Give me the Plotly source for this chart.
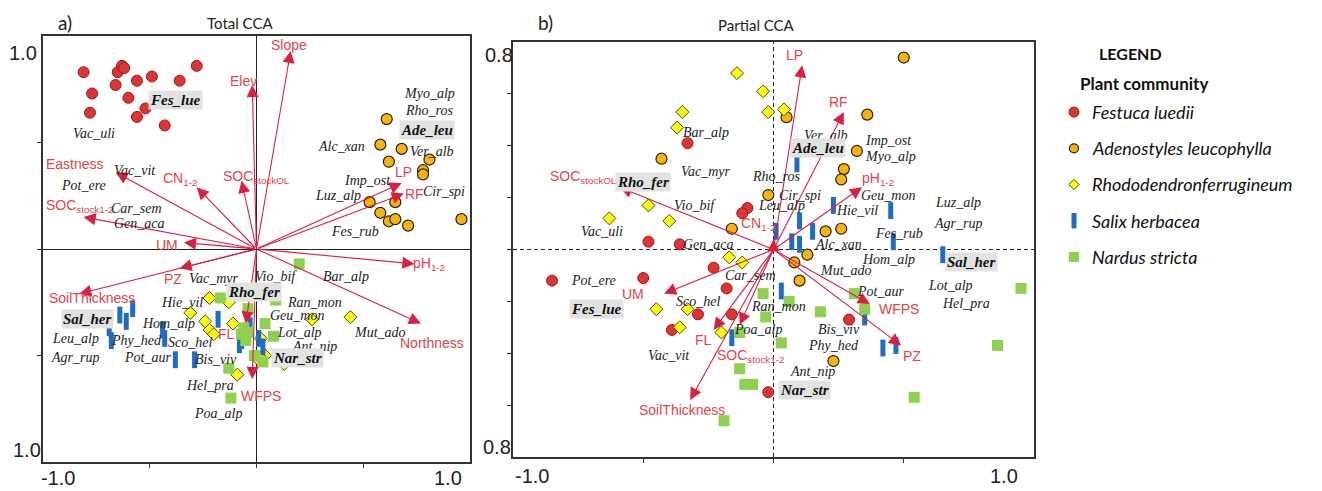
import plotly.graph_objects as go

W, H = 1322, 491

# ---------------- Panel a) Total CCA : sample scores ----------------
a_fes_x = [-0.81, -0.77, -0.78, -0.66, -0.65, -0.63, -0.62, -0.60, -0.56, -0.56, -0.52, -0.49, -0.43, -0.36, -0.28]
a_fes_y = [0.83, 0.73, 0.64, 0.77, 0.83, 0.86, 0.85, 0.71, 0.79, 0.62, 0.66, 0.81, 0.58, 0.79, 0.86]
a_ade_x = [0.61, 0.58, 0.68, 0.62, 0.81, 0.78, 0.78, 0.53, 0.65, 0.58, 0.62, 0.65, 0.71, 0.96]
a_ade_y = [0.61, 0.49, 0.47, 0.41, 0.42, 0.37, 0.35, 0.22, 0.22, 0.17, 0.13, 0.14, 0.11, 0.14]
a_rho_x = [-0.22, -0.13, -0.31, -0.24, -0.11, -0.22, -0.20, 0.26, 0.44, 0.02, 0.01, 0.04, 0.02, 0.13, -0.09]
a_rho_y = [-0.23, -0.25, -0.30, -0.34, -0.35, -0.38, -0.40, -0.33, -0.32, -0.42, -0.52, -0.50, -0.51, -0.54, -0.59]
a_sal_x = [-0.58, -0.64, -0.61, -0.69, -0.68, -0.44, -0.43, -0.38, -0.29, -0.18, -0.03, -0.08, -0.07, 0.01, 0.03]
a_sal_y = [-0.28, -0.31, -0.34, -0.37, -0.43, -0.38, -0.42, -0.52, -0.52, -0.33, -0.36, -0.45, -0.43, -0.42, -0.46]
a_nar_x = [0.20, -0.17, 0.09, -0.04, -0.06, 0.04, -0.04, 0.08, -0.05, -0.01, 0.03, -0.13, -0.12, -0.07]
a_nar_y = [-0.07, -0.23, -0.24, -0.28, -0.37, -0.35, -0.39, -0.41, -0.43, -0.50, -0.53, -0.56, -0.70, -0.40]

# environmental vectors (tips) and their label positions
a_env_names = ["Slope", "Elev", "SOC<sub>stockOL</sub>", "CN<sub>1-2</sub>", "Eastness",
               "SOC<sub>stock1-2</sub>", "UM", "LP", "RF", "pH<sub>1-2</sub>", "PZ",
               "SoilThickness", "Northness", "WFPS", "FL"]
a_env_x = [0.16, -0.02, -0.07, -0.28, -0.66, -0.81, -0.34, 0.68, 0.69, 0.74, -0.36, -0.83, 0.77, -0.02, -0.05]
a_env_y = [0.93, 0.77, 0.32, 0.29, 0.36, 0.15, 0.03, 0.31, 0.26, -0.07, -0.09, -0.21, -0.35, -0.61, -0.35]
a_envlab_x = [0.15, -0.06, 0.00, -0.36, -0.85, -0.83, -0.42, 0.69, 0.74, 0.81, -0.39, -0.77, 0.82, 0.02, -0.14]
a_envlab_y = [0.96, 0.79, 0.34, 0.33, 0.40, 0.20, 0.02, 0.36, 0.26, -0.07, -0.14, -0.23, -0.44, -0.69, -0.40]

# species scores
a_sp_names = ["Vac_uli", "Myo_alp", "Rho_ros", "Alc_xan", "Ver_alb", "Imp_ost", "Cir_spi", "Luz_alp",
              "Fes_rub", "Vac_vit", "Pot_ere", "Car_sem", "Gen_aca", "Vac_myr", "Vio_bif", "Bar_alp",
              "Hie_vil", "Ran_mon", "Hom_alp", "Geu_mon", "Leu_alp", "Phy_hed", "Sco_hel", "Lot_alp",
              "Mut_ado", "Ant_nip", "Agr_rup", "Pot_aur", "Bis_viv", "Hel_pra", "Poa_alp"]
a_sp_x = [-0.76, 0.81, 0.81, 0.40, 0.82, 0.52, 0.88, 0.38, 0.46, -0.57, -0.81, -0.56, -0.55, -0.20, 0.09,
          0.42, -0.35, 0.27, -0.41, 0.19, -0.85, -0.56, -0.31, 0.20, 0.58, 0.27, -0.85, -0.51, -0.19,
          -0.22, -0.18]
a_sp_y = [0.54, 0.73, 0.65, 0.48, 0.46, 0.32, 0.27, 0.25, 0.08, 0.37, 0.30, 0.19, 0.12, -0.14, -0.13,
          -0.13, -0.25, -0.25, -0.35, -0.31, -0.42, -0.43, -0.44, -0.39, -0.39, -0.46, -0.51, -0.51,
          -0.52, -0.64, -0.77]
# dominant species (community) labels
a_dom_names = ["Fes_lue", "Ade_leu", "Rho_fer", "Sal_her", "Nar_str"]
a_dom_x = [-0.38, 0.80, -0.01, -0.79, 0.19]
a_dom_y = [0.70, 0.56, -0.20, -0.33, -0.51]

# ---------------- Panel b) Partial CCA ----------------
b_fes_x = [-0.33, -0.10, -0.12, -0.48, -0.36, -0.85, -0.50, -0.23, -0.18, -0.29, -0.16, -0.39, 0.29, -0.02]
b_fes_y = [0.41, 0.16, 0.14, 0.03, 0.02, -0.12, -0.11, -0.07, -0.15, -0.25, -0.25, -0.31, -0.27, -0.55]
b_ade_x = [-0.43, -0.02, -0.16, 0.50, 0.36, 0.05, 0.32, 0.27, 0.26, 0.20, 0.26, 0.13, 0.08, 0.10, 0.23]
b_ade_y = [0.35, 0.21, 0.08, 0.74, 0.52, 0.51, 0.38, 0.31, 0.27, 0.07, 0.08, -0.02, -0.05, -0.12, -0.43]
b_rho_x = [-0.14, -0.04, -0.02, 0.04, -0.35, -0.37, -0.48, -0.63, -0.40, -0.17, -0.12, -0.45, -0.33, -0.36, -0.20]
b_rho_y = [0.68, 0.61, 0.53, 0.54, 0.53, 0.47, 0.17, 0.12, 0.11, -0.03, -0.05, -0.23, -0.23, -0.30, -0.32]
b_sal_x = [0.09, 0.23, 0.45, 0.10, 0.01, 0.15, 0.07, 0.10, 0.46, 0.65, 0.03, 0.35, 0.42, 0.47, -0.16]
b_sal_y = [0.33, 0.17, 0.15, 0.11, 0.07, 0.07, 0.03, 0.02, 0.03, -0.02, -0.16, -0.26, -0.38, -0.37, -0.34]
b_nar_x = [-0.04, 0.06, 0.18, 0.31, 0.35, -0.03, -0.13, 0.03, -0.13, -0.11, -0.08, -0.19, 0.54, 0.95, 0.86]
b_nar_y = [-0.17, -0.20, -0.24, -0.17, -0.23, -0.26, -0.32, -0.36, -0.46, -0.52, -0.52, -0.66, -0.57, -0.15, -0.37]

b_env_names = ["LP", "RF", "pH<sub>1-2</sub>", "SOC<sub>stockOL</sub>", "CN<sub>1-2</sub>", "UM", "FL",
               "SOC<sub>stock1-2</sub>", "SoilThickness", "WFPS", "PZ"]
b_env_x = [0.11, 0.27, 0.34, -0.59, 0.00, -0.42, -0.23, -0.13, -0.32, 0.37, 0.49]
b_env_y = [0.71, 0.53, 0.24, 0.24, 0.04, -0.17, -0.31, -0.29, -0.58, -0.21, -0.37]
b_envlab_x = [0.08, 0.25, 0.40, -0.73, -0.06, -0.54, -0.27, -0.09, -0.35, 0.48, 0.53]
b_envlab_y = [0.75, 0.57, 0.27, 0.28, 0.10, -0.17, -0.35, -0.41, -0.62, -0.23, -0.41]

b_sp_names = ["Bar_alp", "Vac_myr", "Vio_bif", "Vac_uli", "Gen_aca", "Rho_ros", "Ver_alb", "Imp_ost",
              "Myo_alp", "Cir_spi", "Leu_alp", "Geu_mon", "Luz_alp", "Hie_vil", "Agr_rup", "Fes_rub",
              "Alc_xan", "Car_sem", "Mut_ado", "Hom_alp", "Pot_ere", "Sco_hel", "Ran_mon", "Pot_aur",
              "Lot_alp", "Hel_pra", "Poa_alp", "Bis_viv", "Phy_hed", "Vac_vit", "Ant_nip"]
b_sp_x = [-0.26, -0.26, -0.30, -0.66, -0.25, 0.01, 0.20, 0.44, 0.45, 0.10, 0.03, 0.44, 0.71, 0.32, 0.71,
          0.48, 0.25, -0.09, 0.28, 0.44, -0.69, -0.29, 0.02, 0.41, 0.68, 0.74, -0.06, 0.25, 0.23, -0.40, 0.15]
b_sp_y = [0.45, 0.30, 0.17, 0.07, 0.02, 0.28, 0.44, 0.42, 0.36, 0.21, 0.17, 0.21, 0.18, 0.15, 0.10, 0.06,
          0.02, -0.10, -0.08, -0.04, -0.12, -0.20, -0.22, -0.16, -0.14, -0.21, -0.31, -0.31, -0.37, -0.41, -0.47]
b_dom_names = ["Rho_fer", "Ade_leu", "Sal_her", "Fes_lue", "Nar_str"]
b_dom_x = [-0.50, 0.17, 0.76, -0.68, 0.12]
b_dom_y = [0.26, 0.39, -0.05, -0.23, -0.54]

# legend
communities = ["Festuca luedii", "Adenostyles leucophylla", "Rhododendronferrugineum",
               "Salix herbacea", "Nardus stricta"]

# ---------------- styles ----------------
ARROW = "#da1f40"
ENVTXT = "#e4434a"
SERIF = "Liberation Serif"
SANS = "Liberation Sans"
LATO = "Lato"

styles = [
    dict(symbol="circle", size=11, color="#dd3535", line=dict(color="#9a1a1a", width=1)),
    dict(symbol="circle", size=11, color="#fbb400", line=dict(color="#222222", width=1.2)),
    dict(symbol="diamond", size=10, color="#ffff00", line=dict(color="#4a4a20", width=1)),
    dict(symbol="line-ns", size=12, color="#1f6cc6", line=dict(color="#1f6cc6", width=5)),
    dict(symbol="square", size=11, color="#8fd14f", line=dict(width=0)),
]

fig = go.Figure()

def add_groups(groups, xa, ya):
    for (gx, gy), st in zip(groups, styles):
        fig.add_trace(go.Scatter(x=gx, y=gy, mode="markers", xaxis=xa, yaxis=ya,
                                 marker=st, showlegend=False, hoverinfo="skip"))

add_groups([(a_fes_x, a_fes_y), (a_ade_x, a_ade_y), (a_rho_x, a_rho_y),
            (a_sal_x, a_sal_y), (a_nar_x, a_nar_y)], "x", "y")
add_groups([(b_fes_x, b_fes_y), (b_ade_x, b_ade_y), (b_rho_x, b_rho_y),
            (b_sal_x, b_sal_y), (b_nar_x, b_nar_y)], "x2", "y2")

# legend markers on their own small categorical axis
leg_styles = [
    dict(symbol="circle", size=10, color="#dd3535", line=dict(color="#9a1a1a", width=1)),
    dict(symbol="circle", size=9, color="#fbb400", line=dict(color="#222222", width=1.2)),
    dict(symbol="diamond", size=8, color="#ffff00", line=dict(color="#4a4a20", width=1)),
    dict(symbol="line-ns", size=11, color="#1f6cc6", line=dict(color="#1f6cc6", width=5)),
    dict(symbol="square", size=10, color="#8fd14f", line=dict(width=0)),
]
for name, st in zip(communities, leg_styles):
    fig.add_trace(go.Scatter(x=[0], y=[name], mode="markers", xaxis="x3", yaxis="y3",
                             marker=st, showlegend=False, hoverinfo="skip"))

ann = []

def add_panel_text(xr, yr, env_names, ex, ey, lx, ly, sp_names, sx, sy, dn, dx, dy):
    for x, y in zip(ex, ey):
        ann.append(dict(xref=xr, yref=yr, axref=xr, ayref=yr, x=x, y=y, ax=0, ay=0, text="",
                        showarrow=True, arrowhead=2, arrowsize=2.2, arrowwidth=1.1,
                        arrowcolor=ARROW, standoff=0, startstandoff=0))
    for t, x, y in zip(env_names, lx, ly):
        ann.append(dict(xref=xr, yref=yr, x=x, y=y, text=t, showarrow=False,
                        font=dict(family=SANS, size=14, color=ENVTXT)))
    for t, x, y in zip(sp_names, sx, sy):
        ann.append(dict(xref=xr, yref=yr, x=x, y=y, text=t, showarrow=False,
                        font=dict(family=SERIF, size=14, color="#222222", style="italic")))
    for t, x, y in zip(dn, dx, dy):
        ann.append(dict(xref=xr, yref=yr, x=x, y=y, text="<b>" + t + "</b>", showarrow=False,
                        bgcolor="#e2e2e2", borderpad=1,
                        font=dict(family=SERIF, size=15, color="#111111", style="italic")))

add_panel_text("x", "y", a_env_names, a_env_x, a_env_y, a_envlab_x, a_envlab_y,
               a_sp_names, a_sp_x, a_sp_y, a_dom_names, a_dom_x, a_dom_y)
add_panel_text("x2", "y2", b_env_names, b_env_x, b_env_y, b_envlab_x, b_envlab_y,
               b_sp_names, b_sp_x, b_sp_y, b_dom_names, b_dom_x, b_dom_y)

# legend text
for i, name in enumerate(communities):
    ann.append(dict(xref="x3", yref="y3", x=0, y=i, text=name, showarrow=False, xanchor="left",
                    xshift=16, font=dict(family=LATO, size=18, color="#111111", style="italic")))

def paper_text(px, py, text, size, family=SANS, xanchor="center", color="#222222"):
    ann.append(dict(xref="paper", yref="paper", x=px / W, y=1 - py / H, text=text, showarrow=False,
                    xanchor=xanchor, yanchor="middle", font=dict(family=family, size=size, color=color)))

# tick numbers
paper_text(23, 53, "1.0", 20)
paper_text(27, 450, "1.0", 20)
paper_text(58, 478, "-1.0", 20)
paper_text(448, 478, "1.0", 20)
paper_text(499, 55, "0.8", 20)
paper_text(497, 447, "0.8", 20)
paper_text(532, 476, "-1.0", 20)
paper_text(1004, 476, "1.0", 20)
# titles
paper_text(65, 22, "a)", 19, LATO)
paper_text(240, 23, "Total CCA", 15, LATO)
paper_text(545, 22, "b)", 19, LATO)
paper_text(756, 25, "Partial CCA", 15, LATO)
paper_text(1130, 53, "<b>LEGEND</b>", 16, LATO, color="#111111")
paper_text(1078, 83, "<b>Plant community</b>", 17, LATO, xanchor="left", color="#111111")

axis_common = dict(showgrid=False, showline=True, linecolor="#333333", linewidth=1.5, mirror=True,
                   ticks="outside", ticklen=4, tickcolor="#333333", showticklabels=False)

fig.update_layout(
    width=W, height=H, margin=dict(l=0, r=0, t=0, b=0),
    paper_bgcolor="white", plot_bgcolor="white", showlegend=False,
    xaxis=dict(domain=[43 / W, 470 / W], range=[-1, 1], tickvals=[-0.5, 0, 0.5],
               zeroline=True, zerolinecolor="#222222", zerolinewidth=1, anchor="y", **axis_common),
    yaxis=dict(domain=[1 - 462 / H, 1 - 36 / H], range=[-1, 1], tickvals=[-0.5, 0, 0.5],
               zeroline=True, zerolinecolor="#222222", zerolinewidth=1, anchor="x", **axis_common),
    xaxis2=dict(domain=[513 / W, 1034 / W], range=[-1, 1], tickvals=[-0.5, 0, 0.5],
                zeroline=False, anchor="y2", **axis_common),
    yaxis2=dict(domain=[1 - 457 / H, 1 - 42 / H], range=[-0.8, 0.8],
                tickvals=[-0.6, -0.4, -0.2, 0, 0.2, 0.4, 0.6],
                zeroline=False, anchor="x2", **axis_common),
    xaxis3=dict(domain=[1064 / W, 1084 / W], range=[-1, 1], visible=False, anchor="y3"),
    yaxis3=dict(domain=[1 - 275 / H, 1 - 94 / H], type="category", range=[4.5, -0.5],
                visible=False, anchor="x3"),
    annotations=ann,
    shapes=[
        dict(type="line", xref="x2", yref="y2 domain", x0=0, x1=0, y0=0, y1=1,
             line=dict(color="#222222", width=1, dash="4px,3px"), layer="below"),
        dict(type="line", xref="x2 domain", yref="y2", x0=0, x1=1, y0=0, y1=0,
             line=dict(color="#222222", width=1, dash="4px,3px"), layer="below"),
    ],
)

fig.write_html("out.html", config={"displayModeBar": False},
               post_script="document.body.style.margin='0px';document.body.style.overflow='hidden';")
